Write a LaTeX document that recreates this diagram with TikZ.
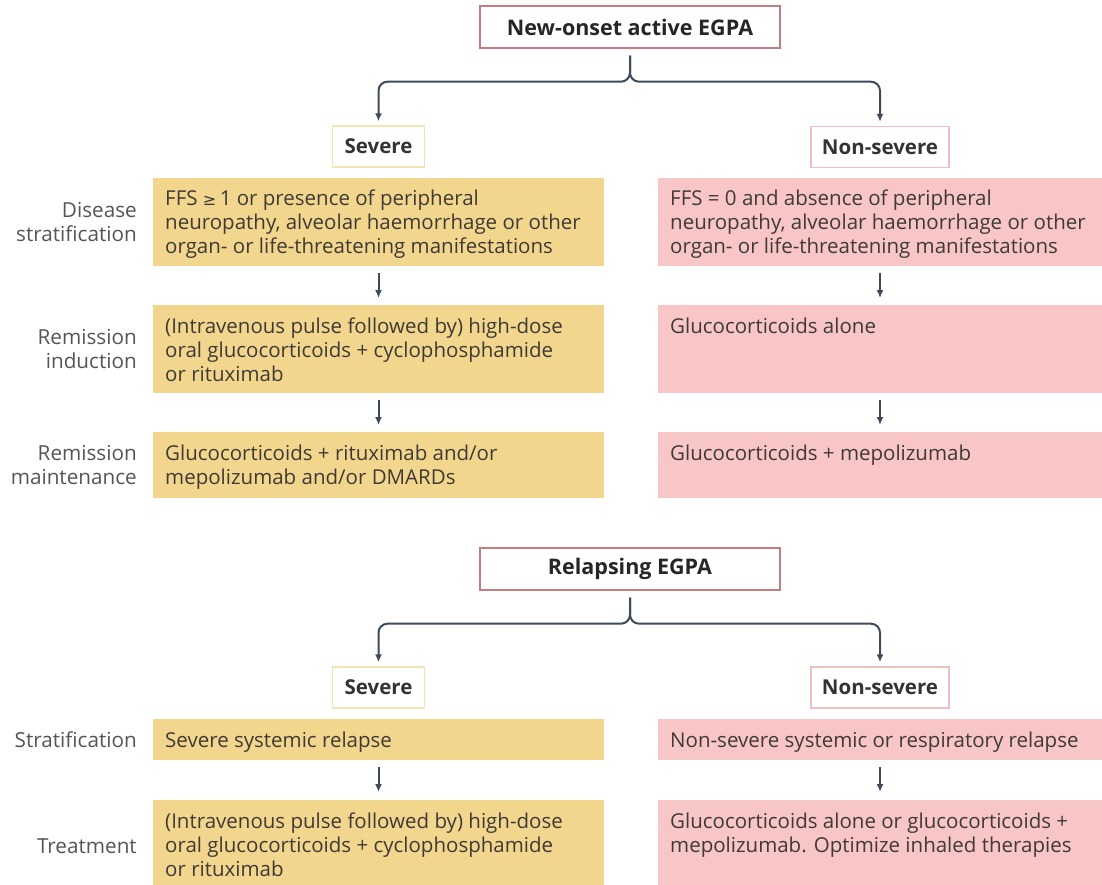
\documentclass[tikz,border=0pt]{standalone}
\usepackage{fontspec}
\setmainfont{Open Sans}
\newfontfamily\symfont{DejaVu Sans}
\usetikzlibrary{arrows.meta,calc}
\definecolor{yfill}{HTML}{F2D68D}
\definecolor{pfill}{HTML}{F8C6C6}
\definecolor{ybord}{HTML}{F3E4B4}
\definecolor{pbord}{HTML}{EFC0C0}
\definecolor{tbord}{HTML}{C47C80}
\definecolor{arrc}{HTML}{3D4B5C}
\definecolor{txtc}{HTML}{3F3A36}
\definecolor{lblc}{HTML}{555555}
\tikzset{
  ybox/.style={fill=yfill, draw=none, anchor=north west, inner sep=0pt, outer sep=0pt, minimum width=451pt},
  pbox/.style={fill=pfill, draw=none, anchor=north west, inner sep=0pt, outer sep=0pt, minimum width=444pt},
  txt/.style={anchor=north west, inner sep=0pt, align=left, text=txtc, font=\fontsize{20.5}{24}\selectfont},
  lbl/.style={anchor=east, inner sep=0pt, align=right, text=lblc, font=\fontsize{20.7}{24}\selectfont},
  title/.style={draw=tbord, line width=1.4pt, fill=white, minimum width=300pt, minimum height=42pt, inner sep=0pt, font=\fontsize{21.5}{24}\selectfont\bfseries, text=black!85},
  hdr/.style={line width=1.4pt, fill=white, minimum height=41pt, inner sep=0pt, font=\fontsize{20.5}{24}\selectfont\bfseries, text=black!80},
  arr/.style={draw=arrc, line width=2pt, -{Latex[length=8pt,width=7pt]}},
  brarr/.style={arr, rounded corners=9pt},
}
\begin{document}
\begin{tikzpicture}[x=1pt,y=-1pt]
\useasboundingbox (0,0) rectangle (1102,885);
\clip (0,0) rectangle (1102,885);

% ---------- New-onset ----------
\node[title] (T1) at (630,27) {New-onset active EGPA};
\node[hdr, draw=ybord, minimum width=92pt] (S1) at (378.5,146.5) {Severe};
\node[hdr, draw=pbord, minimum width=138pt] (N1) at (880,147) {Non-severe};
\draw[brarr] ([yshift=-7pt]T1.south) -- ([yshift=-33pt]T1.south) -| ([yshift=4pt]S1.north);
\draw[brarr] ([yshift=-7pt]T1.south) -- ([yshift=-33pt]T1.south) -| ([yshift=4pt]N1.north);

\node[ybox, minimum height=88pt] (Y1) at (153,178) {};
\node[pbox, minimum height=88pt] (P1) at (658,178) {};
\node[ybox, minimum height=88pt] (Y2) at (153,305) {};
\node[pbox, minimum height=88pt] (P2) at (658,305) {};
\node[ybox, minimum height=66pt] (Y3) at (153,432) {};
\node[pbox, minimum height=66pt] (P3) at (658,432) {};

\node[txt] (y1t) at ([xshift=12pt,yshift=-11pt]Y1.north west) {\strut FFS {\symfont\fontsize{16}{24}\selectfont ≥}\,1 or presence of peripheral\\neuropathy, alveolar haemorrhage or other\\organ- or life-threatening manifestations};
\node[txt] (p1t) at ([xshift=12pt,yshift=-11pt]P1.north west) {\strut FFS = 0 and absence of peripheral\\neuropathy, alveolar haemorrhage or other\\organ- or life-threatening manifestations};
\node[txt] (y2t) at ([xshift=12pt,yshift=-11pt]Y2.north west) {\strut (Intravenous pulse followed by) high-dose\\oral glucocorticoids + cyclophosphamide\\or rituximab};
\node[txt] (p2t) at ([xshift=12pt,yshift=-11pt]P2.north west) {\strut Glucocorticoids alone};
\node[txt] (y3t) at ([xshift=12pt,yshift=-11pt]Y3.north west) {\strut Glucocorticoids + rituximab and/or\\mepolizumab and/or DMARDs};
\node[txt] (p3t) at ([xshift=12pt,yshift=-11pt]P3.north west) {\strut Glucocorticoids + mepolizumab};

\node[lbl] (l1) at ([xshift=-16pt]Y1.west) {Disease\\stratification};
\node[lbl] (l2) at ([xshift=-16pt]Y2.west) {Remission\\induction};
\node[lbl] (l3) at ([xshift=-16pt]Y3.west) {Remission\\maintenance};

\draw[arr] ([yshift=-7pt]Y1.south) -- ([yshift=7pt]Y2.north);
\draw[arr] ([yshift=-7pt]P1.south) -- ([yshift=7pt]P2.north);
\draw[arr] ([yshift=-7pt]Y2.south) -- ([yshift=7pt]Y3.north);
\draw[arr] ([yshift=-7pt]P2.south) -- ([yshift=7pt]P3.north);

% ---------- Relapsing ----------
\node[title] (T2) at (630,569) {Relapsing EGPA};
\node[hdr, draw=ybord, minimum width=92pt] (S2) at (378.5,687.5) {Severe};
\node[hdr, draw=pbord, minimum width=138pt] (N2) at (880,687.5) {Non-severe};
\draw[brarr] ([yshift=-7pt]T2.south) -- ([yshift=-33pt]T2.south) -| ([yshift=4pt]S2.north);
\draw[brarr] ([yshift=-7pt]T2.south) -- ([yshift=-33pt]T2.south) -| ([yshift=4pt]N2.north);

\node[ybox, minimum height=41pt] (Y4) at (153,719) {};
\node[pbox, minimum height=41pt] (P4) at (658,719) {};
\node[ybox, minimum height=93pt] (Y5) at (153,800) {};
\node[pbox, minimum height=93pt] (P5) at (658,800) {};

\node[txt] (y4t) at ([xshift=12pt,yshift=-11pt]Y4.north west) {\strut Severe systemic relapse};
\node[txt] (p4t) at ([xshift=12pt,yshift=-11pt]P4.north west) {\strut Non-severe systemic or respiratory relapse};
\node[txt] (y5t) at ([xshift=12pt,yshift=-11pt]Y5.north west) {\strut (Intravenous pulse followed by) high-dose\\oral glucocorticoids + cyclophosphamide\\or rituximab};
\node[txt] (p5t) at ([xshift=12pt,yshift=-11pt]P5.north west) {\strut Glucocorticoids alone or glucocorticoids +\\mepolizumab. Optimize inhaled therapies};

\node[lbl] (l4) at ([xshift=-16pt]Y4.west) {Stratification};
\node[lbl] (l5) at ([xshift=-16pt]Y5.west) {Treatment};

\draw[arr] ([yshift=-7pt]Y4.south) -- ([yshift=8pt]Y5.north);
\draw[arr] ([yshift=-7pt]P4.south) -- ([yshift=8pt]P5.north);
\end{tikzpicture}
\end{document}
